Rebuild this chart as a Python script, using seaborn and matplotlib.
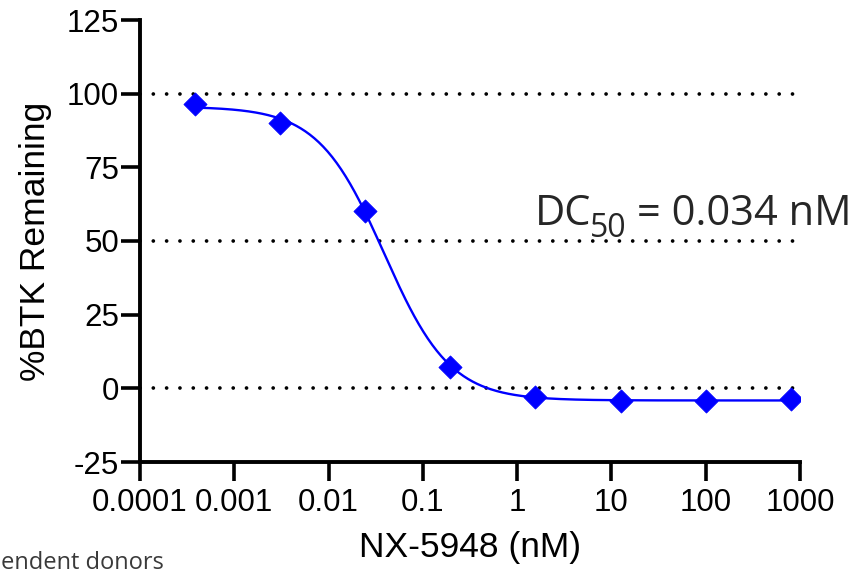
import numpy as np
import pandas as pd
import matplotlib
matplotlib.use("Agg")
import matplotlib.pyplot as plt
import seaborn as sns

# ---- data ----
conc_nM = [0.000381, 0.00305, 0.0244, 0.195, 1.5625, 12.5, 100, 800]
btk_remaining = [96.4, 90.2, 60.1, 7.3, -2.9, -4.2, -4.2, -3.7]
x_tick_values = [0.0001, 0.001, 0.01, 0.1, 1, 10, 100, 1000]
x_tick_labels = ["0.0001", "0.001", "0.01", "0.1", "1", "10", "100", "1000"]
y_tick_values = [-25, 0, 25, 50, 75, 100, 125]
y_tick_labels = ["-25", "0", "25", "50", "75", "100", "125"]
gridline_values = [0, 50, 100]
annot_main = "DC"
annot_sub = "50"
annot_rest = " = 0.034 nM"

df = pd.DataFrame({"conc": conc_nM, "btk": btk_remaining})

# ---- four-parameter logistic least-squares fit of the points ----
x = np.array(conc_nM)
y = np.array(btk_remaining)
best = None
for logc in np.linspace(-2.5, -0.5, 401):
    for h in np.linspace(0.5, 3.0, 251):
        g = 1.0 / (1.0 + (x / 10 ** logc) ** h)
        A = np.column_stack([g, 1 - g])
        coef, *_ = np.linalg.lstsq(A, y, rcond=None)
        sse = np.sum((A @ coef - y) ** 2)
        if best is None or sse < best[0]:
            best = (sse, logc, h, coef[0], coef[1])
_, logc, hill, top, bottom = best
xf = np.logspace(np.log10(conc_nM[0]), np.log10(conc_nM[-1]), 400)
yf = bottom + (top - bottom) / (1 + (xf / 10 ** logc) ** hill)
fit = pd.DataFrame({"conc": xf, "btk": yf})

sns.set_theme(style="white")
plt.rcParams["font.family"] = ["Liberation Sans", "DejaVu Sans"]
plt.rcParams["axes.unicode_minus"] = False

W, H = 859, 575
fig = plt.figure(figsize=(W / 100, H / 100), dpi=100)
ax = fig.add_axes([140 / W, 1 - 462 / H, 660 / W, 442 / H])
ax.set_xscale("log")

for gv in gridline_values:
    ax.axhline(gv, color="black", lw=2.7, linestyle=(0, (0.001, 3.55)),
               dash_capstyle="round", zorder=1)

sns.lineplot(data=fit, x="conc", y="btk", ax=ax, color="#0000FF", lw=1.7,
             zorder=3, legend=False)
sns.scatterplot(data=df, x="conc", y="btk", ax=ax, marker="D", s=140,
                color="#0000FF", edgecolor="#0000FF", linewidth=0.5,
                zorder=4, legend=False)

ax.set_xlim(1e-4, 1e3)
ax.set_ylim(-25, 125)
ax.set_xticks(x_tick_values)
ax.set_xticklabels(x_tick_labels)
ax.xaxis.set_minor_locator(matplotlib.ticker.NullLocator())
ax.set_yticks(y_tick_values)
ax.set_yticklabels(y_tick_labels)

for side in ["top", "right"]:
    ax.spines[side].set_visible(False)
for side in ["left", "bottom"]:
    ax.spines[side].set_linewidth(2.8)
    ax.spines[side].set_color("black")
ax.tick_params(axis="both", which="major", direction="out", length=14,
               width=2.6, color="black", labelsize=22.5, labelcolor="black",
               left=True, bottom=True)
ax.tick_params(axis="y", pad=1)
ax.tick_params(axis="x", pad=5)

ax.set_xlabel("NX-5948 (nM)", fontsize=25.5, color="black", labelpad=9)
ax.set_ylabel("%BTK Remaining", fontsize=25.5, color="black", labelpad=11)

# DC50 annotation built from pieces so the subscript sits like the reference
afam = ["Open Sans", "DejaVu Sans"]
fig.canvas.draw()
r = fig.canvas.get_renderer()
t1 = fig.text(535 / W, 1 - 225 / H, annot_main, fontsize=30, color="#262626",
              family=afam, ha="left", va="baseline")
x_end = t1.get_window_extent(r).x1 / W
t2 = fig.text(x_end - 2 / W, 1 - 237 / H, annot_sub, fontsize=23, color="#262626",
              family=afam, ha="left", va="baseline")
x_end = t2.get_window_extent(r).x1 / W
fig.text(x_end, 1 - 225 / H, annot_rest, fontsize=30, color="#262626",
         family=afam, ha="left", va="baseline")

fig.text(1 / W, 6 / H, "endent donors", fontsize=17, color="#3a3a3a",
         family=afam, ha="left", va="baseline")

fig.savefig("out.png", dpi=100)
